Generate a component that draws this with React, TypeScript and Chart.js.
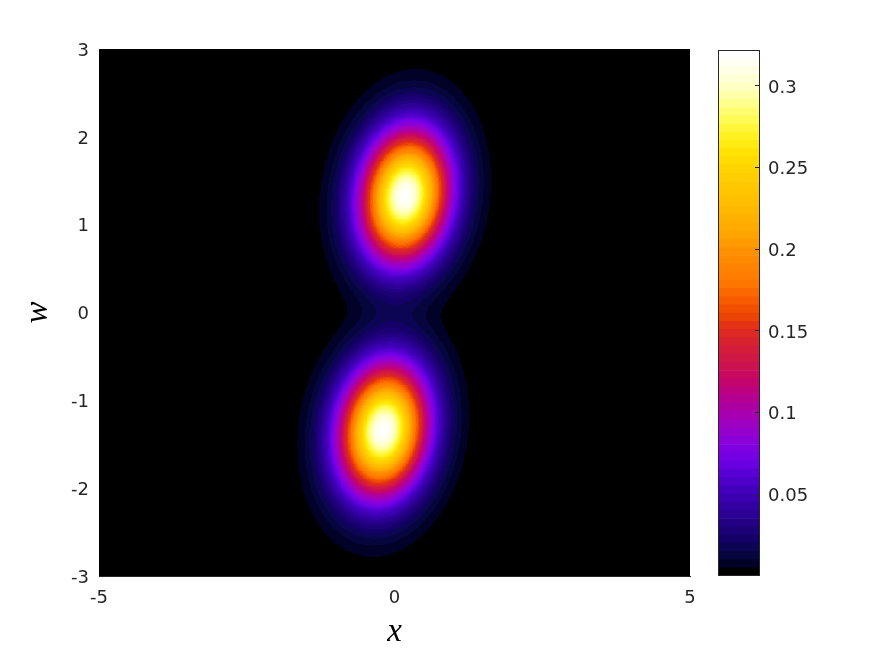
import React, { useEffect, useRef } from "react";
import { Chart, registerables } from "chart.js";

Chart.register(...registerables);

// ---- axes / ticks ----
const xTicks = [-5, 0, 5];
const wTicks = [-3, -2, -1, 0, 1, 2, 3];
const xRange = [-5, 5];
const wRange = [-3, 3];
const colorbarTicks = [0.05, 0.1, 0.15, 0.2, 0.25, 0.3];
const colorbarRange = [0, 0.322];
const levelCount = 64;

// ---- the two lobes of the distribution ----
const blobX = [0.18, -0.19];
const blobW = [1.33, -1.34];
const blobPeak = [0.32, 0.32];
const blobSigmaX = [0.505, 0.505];
const blobSigmaW = [0.5, 0.5];
const blobRho = [0.12, 0.12];

// grid resolution of the cells
const cellX = 0.01;
const cellW = 0.01;

// colour map stops (t, r, g, b)
const cmapStops: number[][] = [
  [0, 0, 0, 0],
  [0.0155, 2, 2, 40],
  [0.031, 6, 5, 60],
  [0.047, 12, 5, 82],
  [0.062, 20, 0, 102],
  [0.093, 35, 0, 130],
  [0.124, 50, 0, 160],
  [0.155, 65, 0, 185],
  [0.186, 85, 0, 210],
  [0.217, 115, 0, 230],
  [0.248, 135, 0, 220],
  [0.28, 155, 0, 200],
  [0.31, 170, 0, 170],
  [0.342, 185, 0, 140],
  [0.373, 200, 5, 100],
  [0.404, 205, 20, 75],
  [0.435, 215, 30, 55],
  [0.466, 222, 42, 30],
  [0.497, 238, 70, 0],
  [0.528, 250, 95, 0],
  [0.559, 255, 120, 0],
  [0.621, 255, 145, 0],
  [0.652, 255, 165, 0],
  [0.714, 255, 190, 0],
  [0.776, 255, 210, 0],
  [0.807, 255, 225, 0],
  [0.839, 255, 240, 30],
  [0.87, 255, 250, 80],
  [0.9, 255, 255, 130],
  [0.932, 255, 255, 190],
  [0.963, 255, 255, 225],
  [1, 255, 255, 255],
];

function cmap(t: number): string {
  for (let i = 1; i < cmapStops.length; i++) {
    const a = cmapStops[i - 1];
    const b = cmapStops[i];
    if (t <= b[0]) {
      const f = (t - a[0]) / (b[0] - a[0] || 1);
      const r = Math.round(a[1] + (b[1] - a[1]) * f);
      const g = Math.round(a[2] + (b[2] - a[2]) * f);
      const bl = Math.round(a[3] + (b[3] - a[3]) * f);
      return `rgb(${r},${g},${bl})`;
    }
  }
  return "rgb(255,255,255)";
}

const palette: string[] = [];
for (let i = 0; i < levelCount; i++) palette.push(cmap(i / (levelCount - 1)));

function valueAt(x: number, w: number): number {
  let v = 0;
  for (let k = 0; k < blobX.length; k++) {
    const dx = (x - blobX[k]) / blobSigmaX[k];
    const dw = (w - blobW[k]) / blobSigmaW[k];
    const r = blobRho[k];
    const q = (dx * dx - 2 * r * dx * dw + dw * dw) / (1 - r * r);
    v += blobPeak[k] * Math.exp(-0.5 * q);
  }
  return v;
}

const nX = Math.round((xRange[1] - xRange[0]) / cellX);
const nW = Math.round((wRange[1] - wRange[0]) / cellW);
const levels = new Uint8Array(nX * nW);
for (let j = 0; j < nW; j++) {
  const w = wRange[0] + (j + 0.5) * cellW;
  for (let i = 0; i < nX; i++) {
    const x = xRange[0] + (i + 0.5) * cellX;
    const v = valueAt(x, w);
    const t = (v - colorbarRange[0]) / (colorbarRange[1] - colorbarRange[0]);
    levels[j * nX + i] = Math.max(0, Math.min(levelCount - 1, Math.floor(t * levelCount)));
  }
}

const TEXT = "#262626";
const TICK_FONT = { family: "DejaVu Sans", size: 18 };

const heatmapPlugin = {
  id: "heatmap",
  beforeDatasetsDraw(chart: any) {
    const { ctx, chartArea, scales } = chart;
    const xs = scales.x;
    const ys = scales.y;
    ctx.save();
    ctx.beginPath();
    ctx.rect(chartArea.left, chartArea.top, chartArea.right - chartArea.left, chartArea.bottom - chartArea.top);
    ctx.clip();
    for (let j = 0; j < nW; j++) {
      const w0 = wRange[0] + j * cellW;
      const top = Math.round(ys.getPixelForValue(w0 + cellW));
      const bot = Math.round(ys.getPixelForValue(w0));
      if (bot <= top) continue;
      let i = 0;
      while (i < nX) {
        const lvl = levels[j * nX + i];
        let k = i + 1;
        while (k < nX && levels[j * nX + k] === lvl) k++;
        const left = Math.round(xs.getPixelForValue(xRange[0] + i * cellX));
        const right = Math.round(xs.getPixelForValue(xRange[0] + k * cellX));
        ctx.fillStyle = palette[lvl];
        ctx.fillRect(left, top, right - left, bot - top);
        i = k;
      }
    }
    ctx.restore();
  },
};

const framePlugin = {
  id: "cbframe",
  afterDraw(chart: any) {
    const { ctx, chartArea } = chart;
    ctx.save();
    ctx.strokeStyle = TEXT;
    ctx.lineWidth = 1;
    ctx.strokeRect(
      Math.round(chartArea.left) + 0.5,
      Math.round(chartArea.top) + 0.5,
      Math.round(chartArea.right - chartArea.left) - 1,
      Math.round(chartArea.bottom - chartArea.top) - 1
    );
    ctx.restore();
  },
};

export default function App() {
  const mainRef = useRef<HTMLCanvasElement | null>(null);
  const cbRef = useRef<HTMLCanvasElement | null>(null);

  useEffect(() => {
    const main = new Chart(mainRef.current as HTMLCanvasElement, {
      type: "scatter",
      data: { datasets: [{ data: [], pointRadius: 0 }] },
      plugins: [heatmapPlugin],
      options: {
        responsive: false,
        animation: false,
        layout: { padding: { left: 0, top: 49, right: 185, bottom: 0 } },
        plugins: { legend: { display: false }, tooltip: { enabled: false } },
        scales: {
          x: {
            type: "linear",
            min: xRange[0],
            max: xRange[1],
            afterBuildTicks: (s: any) => {
              s.ticks = xTicks.map((v) => ({ value: v }));
            },
            afterFit: (s: any) => {
              s.height = 80;
            },
            grid: { display: false, drawTicks: false },
            border: { display: true, color: TEXT, width: 1 },
            ticks: { color: TEXT, font: TICK_FONT, padding: 12, maxRotation: 0, autoSkip: false },
            title: {
              display: true,
              text: "x",
              color: "#000",
              font: { family: "Liberation Serif", style: "italic", size: 33, lineHeight: 1 },
              padding: { top: 0, bottom: 7 },
            },
          },
          y: {
            type: "linear",
            min: wRange[0],
            max: wRange[1],
            afterBuildTicks: (s: any) => {
              s.ticks = wTicks.map((v) => ({ value: v }));
            },
            afterFit: (s: any) => {
              s.width = 99;
            },
            grid: { display: false, drawTicks: false },
            border: { display: true, color: TEXT, width: 1 },
            ticks: { color: TEXT, font: TICK_FONT, padding: 10, autoSkip: false, labelOffset: 2 },
            title: {
              display: true,
              text: "w",
              color: "#000",
              font: { family: "Liberation Serif", style: "italic", size: 33, lineHeight: 1 },
              padding: { top: 22, bottom: 0 },
            },
          },
        },
      },
    } as any);

    const step = (colorbarRange[1] - colorbarRange[0]) / levelCount;
    const cbDatasets = palette.map((c) => ({
      data: [step],
      backgroundColor: c,
      borderWidth: 0,
      barPercentage: 1,
      categoryPercentage: 1,
    }));

    const cb = new Chart(cbRef.current as HTMLCanvasElement, {
      type: "bar",
      data: { labels: ["level"], datasets: cbDatasets },
      plugins: [framePlugin],
      options: {
        responsive: false,
        animation: false,
        layout: { padding: { left: 18, top: 50, right: 0, bottom: 80 } },
        plugins: { legend: { display: false }, tooltip: { enabled: false } },
        scales: {
          x: { stacked: true, display: false },
          y: {
            stacked: true,
            position: "right",
            min: colorbarRange[0],
            max: colorbarRange[1],
            afterBuildTicks: (s: any) => {
              s.ticks = colorbarTicks.map((v) => ({ value: v }));
            },
            afterFit: (s: any) => {
              s.width = 115;
            },
            grid: { display: true, drawOnChartArea: false, drawTicks: true, tickLength: -5, color: TEXT, z: 1 },
            border: { display: false },
            ticks: {
              color: TEXT,
              font: TICK_FONT,
              padding: 13,
              autoSkip: false,
              labelOffset: 2,
              callback: (v: any) => String(Math.round(Number(v) * 100) / 100),
            },
          },
        },
      },
    } as any);

    return () => {
      main.destroy();
      cb.destroy();
    };
  }, []);

  return (
    <div style={{ position: "fixed", left: 0, top: 0, width: 875, height: 656, background: "#fff" }}>
      <canvas ref={mainRef} width={875} height={656} style={{ position: "absolute", left: 0, top: 0 }} />
      <canvas ref={cbRef} width={175} height={656} style={{ position: "absolute", left: 700, top: 0 }} />
    </div>
  );
}
